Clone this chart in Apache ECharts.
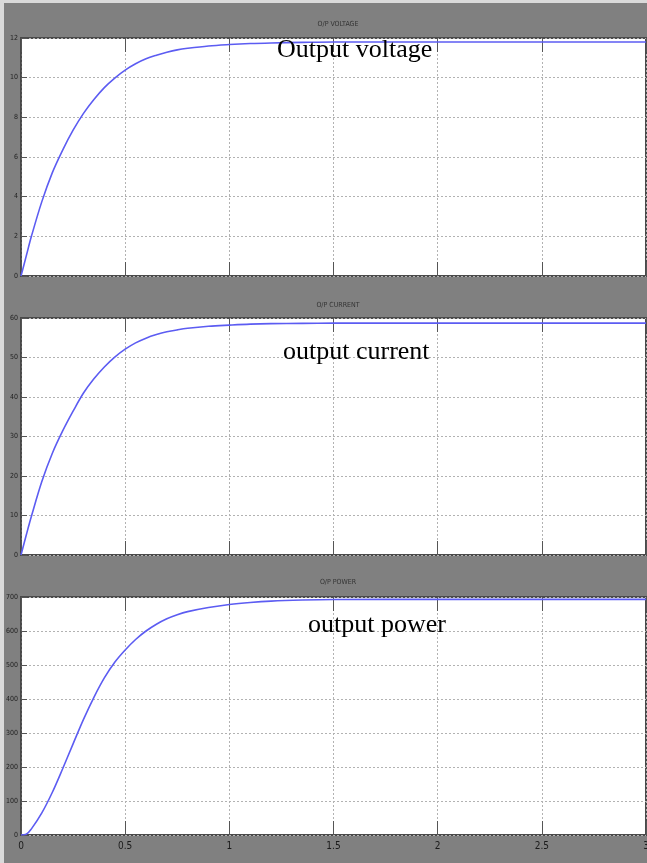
<!DOCTYPE html>
<html>
<head>
<meta charset="utf-8">
<script src="https://cdn.jsdelivr.net/npm/echarts@6/dist/echarts.min.js"></script>
<style>
  html, body { margin: 0; padding: 0; background: #fff; }
  #main { position: absolute; left: 0; top: 0; width: 647px; height: 863px; }
</style>
</head>
<body>
<div id="main"></div>
<script>
// time (s) and the three scope traces
const timeS   = [0, 0.025, 0.05, 0.1, 0.15, 0.2, 0.25, 0.3, 0.35, 0.4, 0.45, 0.5, 0.55, 0.6, 0.65, 0.7, 0.75, 0.8, 0.9, 1.0, 1.1, 1.2, 1.35, 1.5, 2, 2.5, 3];
const voltage = [0, 1.0, 2.0, 3.75, 5.2, 6.35, 7.35, 8.2, 8.9, 9.5, 9.98, 10.38, 10.7, 10.95, 11.13, 11.28, 11.4, 11.48, 11.6, 11.67, 11.72, 11.75, 11.78, 11.8, 11.8, 11.8, 11.8];
const current = [0, 5.0, 9.8, 18.6, 25.7, 31.4, 36.4, 41.0, 44.6, 47.6, 50.1, 52.1, 53.7, 54.9, 55.8, 56.5, 57.0, 57.4, 57.9, 58.2, 58.45, 58.58, 58.65, 58.7, 58.7, 58.7, 58.7];
const power   = [0, 2, 18, 65, 125, 195, 268, 340, 405, 462, 508, 544, 575, 600, 620, 636, 648, 657, 669, 678, 684, 688, 691, 692.5, 693, 693, 693];

const scopeTitles = ['O/P VOLTAGE', 'O/P CURRENT', 'O/P POWER'];
const notes = ['Output voltage', 'output current', 'output power'];
const yMax = [12, 60, 700];
const yStep = [2, 10, 100];

const chart = echarts.init(document.getElementById('main'));

const gridTops = [38, 318, 597];
const gridHeights = [238, 237, 238];
const titleTops = [16, 297, 574];
const noteX = [277, 283, 308];
const noteY = [50, 352, 625];

const gridLine = { show: true, lineStyle: { color: '#b2b2b2', type: [2, 2], width: 1 } };
const tick = { show: true, inside: true, lineStyle: { color: '#555', width: 1 } };

let grids = [], xAxes = [], yAxes = [], series = [], titles = [], graphics = [];
const traces = [voltage, current, power];

for (let i = 0; i < 3; i++) {
  grids.push({
    left: 21, right: 1, top: gridTops[i], height: gridHeights[i],
    outerBoundsMode: 'none', containLabel: false,
    show: true, backgroundColor: '#ffffff', borderColor: '#4a4a4a', borderWidth: 2
  });
  // bottom axis with vertical grid lines
  xAxes.push({
    type: 'value', gridIndex: i, min: 0, max: 3, interval: 0.5,
    axisLine: { show: false },
    axisTick: Object.assign({}, tick, { length: 14 }),
    splitLine: gridLine,
    axisLabel: {
      show: i === 2, margin: 6, color: '#1a1a1a', fontSize: 10,
      fontFamily: 'DejaVu Sans Condensed', hideOverlap: false
    }
  });
  // top axis, ticks only
  xAxes.push({
    type: 'value', gridIndex: i, position: 'top', min: 0, max: 3, interval: 0.5,
    axisLine: { show: false },
    axisTick: Object.assign({}, tick, { length: 14 }),
    splitLine: { show: false },
    axisLabel: { show: false }
  });
  yAxes.push({
    type: 'value', gridIndex: i, min: 0, max: yMax[i], interval: yStep[i],
    axisLine: { show: true, lineStyle: { color: '#4a4a4a', width: 1.5 } },
    axisTick: Object.assign({}, tick, { length: 6 }),
    splitLine: gridLine,
    axisLabel: {
      margin: 3, color: '#222', fontSize: 7,
      fontFamily: 'DejaVu Sans Condensed'
    }
  });
  series.push({
    type: 'line', xAxisIndex: i * 2, yAxisIndex: i,
    data: timeS.map((t, k) => [t, traces[i][k]]),
    showSymbol: false, symbol: 'none',
    smooth: 0.35,
    lineStyle: { color: '#5c5cf2', width: 1.6 },
    z: 3
  });
  titles.push({
    text: scopeTitles[i], left: 333, top: titleTops[i], textAlign: 'center',
    textStyle: { fontSize: 7, fontWeight: 'normal', color: '#333', fontFamily: 'DejaVu Sans Condensed' }
  });
  graphics.push({
    type: 'text', z: 100,
    style: {
      text: notes[i], x: noteX[i], y: noteY[i],
      fill: '#000', font: '26px "Liberation Serif"',
      align: 'left', verticalAlign: 'middle'
    }
  });
}

// light frame edges of the screenshot
graphics.push({ type: 'rect', z: 0, shape: { x: 0, y: 0, width: 4, height: 863 }, style: { fill: '#dadada' } });
graphics.push({ type: 'rect', z: 0, shape: { x: 0, y: 0, width: 647, height: 3 }, style: { fill: '#dadada' } });

chart.setOption({
  backgroundColor: '#808080',
  animation: false,
  title: titles,
  grid: grids,
  xAxis: xAxes,
  yAxis: yAxes,
  series: series,
  graphic: graphics
});
</script>
</body>
</html>
